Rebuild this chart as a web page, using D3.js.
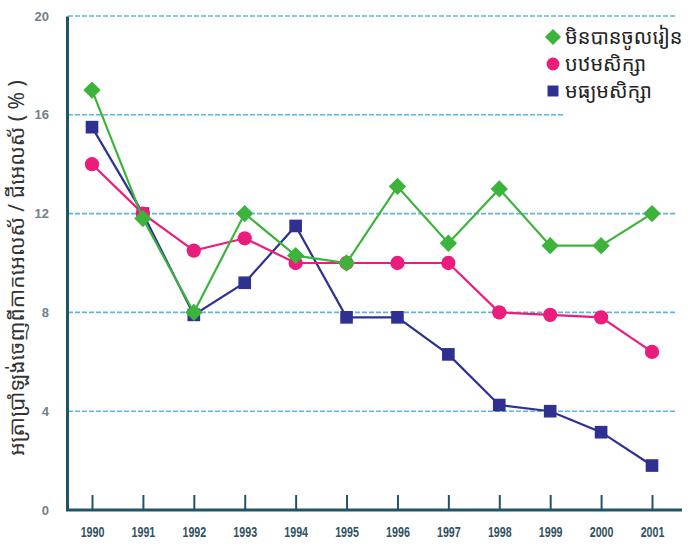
<!DOCTYPE html>
<html><head><meta charset="utf-8">
<script src="https://cdn.jsdelivr.net/npm/d3@7"></script>
<style>body{margin:0;background:#fff}svg{display:block}</style>
</head><body>
<svg id="c" width="692" height="550"></svg>
<script>
const years = [1990,1991,1992,1993,1994,1995,1996,1997,1998,1999,2000,2001];
const noSchool = [17.0,11.8,8.0,12.0,10.3,10.0,13.1,10.8,13.0,10.7,10.7,12.0];
const primary = [14.0,12.0,10.5,11.0,10.0,10.0,10.0,10.0,8.0,7.9,7.8,6.4];
const secondary = [15.5,12.0,7.9,9.2,11.5,7.8,7.8,6.3,4.25,4.0,3.15,1.8];
const yTicks = [0,4,8,12,16,20];
const seriesNames = ["មិនបានចូលរៀន","បឋមសិក្សា","មធ្យមសិក្សា"];
const yTitle = "អត្រាប្រាំឡង់ចេញពីកាកអេលស័ / ជីអេលស័ ( % )";

const svg = d3.select("#c");
const x = d3.scaleLinear().domain([1990,2001]).range([92,652]);
const y = d3.scaleLinear().domain([0,20]).range([510,16]);
const axisCol = "#1e5666";
const khmer = "'Noto Sans Khmer','Khmer OS','Khmer OS System',sans-serif";

// rotated-square diamond symbol
const diamond = { draw(ctx, size){ const r = Math.sqrt(size/2); ctx.moveTo(0,-r); ctx.lineTo(r,0); ctx.lineTo(0,r); ctx.lineTo(-r,0); ctx.closePath(); } };

// gridlines
svg.append("g").selectAll("line").data(yTicks.filter(d=>d>0)).join("line")
  .attr("x1",68).attr("x2",676).attr("y1",d=>y(d)).attr("y2",d=>y(d))
  .attr("stroke","#5cb6de").attr("stroke-width",1.6).attr("stroke-dasharray","5,2");

// legend background
svg.append("rect").attr("x",563).attr("y",22).attr("width",129).attr("height",104).attr("fill","#fff");

// axes
const yAxis = d3.axisLeft(y).tickValues(yTicks).tickSize(0).tickPadding(14).tickFormat(d3.format("d"));
const gy = svg.append("g").attr("transform","translate(67,0)").call(yAxis);
gy.select(".domain").attr("stroke",axisCol).attr("stroke-width",3);
gy.selectAll("text").attr("fill","#6f8088").attr("font-family","'Liberation Sans Narrow','Liberation Sans',sans-serif")
  .attr("font-weight","bold").attr("font-size",13).attr("dx",-4);

const xAxis = d3.axisBottom(x).tickValues(years).tickSize(-15).tickPadding(10).tickFormat(d3.format("d"));
const gx = svg.append("g").attr("transform","translate(0,510)").call(xAxis);
gx.select(".domain").attr("d","M66,0H682").attr("stroke",axisCol).attr("stroke-width",3);
gx.selectAll(".tick line").attr("stroke",axisCol).attr("stroke-width",2);
gx.selectAll(".tick text").attr("fill","#2f5260").attr("font-family","'Liberation Sans Narrow','Liberation Sans',sans-serif")
  .attr("font-weight","bold").attr("font-size",13).attr("transform","scale(0.82,1.1)").attr("y",15);

// title
svg.append("text").attr("transform","translate(24,268) rotate(-90)").attr("text-anchor","middle")
  .attr("font-family",khmer).attr("font-size",21).attr("fill","#333").text(yTitle);

const line = d3.line().x((d,i)=>x(years[i])).y(d=>y(d));
const series = [
  {vals:secondary, col:"#2e3192", sym:d3.symbolSquare, size:160},
  {vals:primary, col:"#ec1c7c", sym:d3.symbolCircle, size:160},
  {vals:noSchool, col:"#3cb43c", sym:diamond, size:150}
];
series.forEach(s=>{
  svg.append("path").attr("d",line(s.vals)).attr("fill","none").attr("stroke",s.col).attr("stroke-width",2.2);
  svg.append("g").selectAll("path").data(s.vals).join("path")
    .attr("transform",(d,i)=>`translate(${x(years[i])},${y(d)})`)
    .attr("d",d3.symbol().type(s.sym).size(s.size)).attr("fill",s.col);
});

// legend
const leg = [
  {name:seriesNames[0], col:"#3cb43c", sym:diamond, size:130},
  {name:seriesNames[1], col:"#ec1c7c", sym:d3.symbolCircle, size:130},
  {name:seriesNames[2], col:"#2e3192", sym:d3.symbolSquare, size:120}
];
leg.forEach((l,i)=>{
  const yy = 37 + i*27;
  svg.append("path").attr("transform",`translate(553,${yy})`).attr("d",d3.symbol().type(l.sym).size(l.size)).attr("fill",l.col);
  svg.append("text").attr("x",565).attr("y",yy+7).attr("font-family",khmer).attr("font-size",20).attr("fill","#222").text(l.name);
});
</script>
</body></html>
